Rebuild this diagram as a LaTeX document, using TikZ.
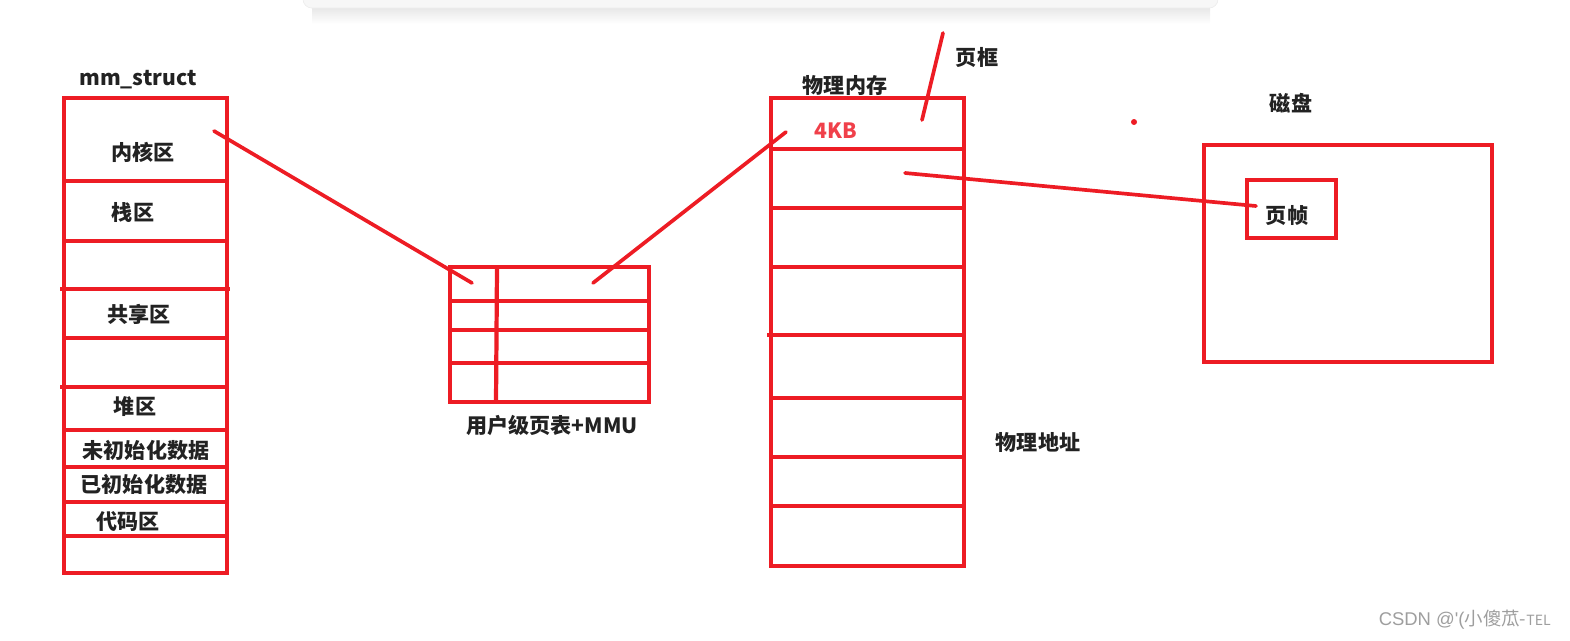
\documentclass[tikz,border=0pt]{standalone}
\usepackage{fontspec}
\setmainfont{Noto Sans CJK SC}
\newfontfamily\latinwm{Liberation Sans}
\usepackage{tikz}
\usetikzlibrary{positioning}
\definecolor{memred}{RGB}{237,28,36}
\definecolor{kbred}{RGB}{240,64,74}
\definecolor{inkgray}{RGB}{34,34,34}
\tikzset{
  box/.style={draw=memred, line width=2.4pt, inner sep=0pt, fill=none},
  divider/.style={memred, line width=2.4pt},
  stroke/.style={memred, line width=2.1pt, line cap=round},
  lab/.style={font=\bfseries\fontsize{12}{14}\selectfont, text=inkgray, inner sep=0pt},
  marklab/.style={lab, text=kbred},
  wmark/.style={font=\fontsize{10.5}{12}\selectfont, text=black!38, inner sep=0pt},
}
\begin{document}
\begin{tikzpicture}[x=0.2mm,y=-0.2mm]
  \path[use as bounding box] (0,0) rectangle (1570,640);

  % Window bar at the top edge.
  \shade[top color=black!9, bottom color=white] (312,8) rectangle (1210,24);
  \fill[black!3, draw=black!7, rounded corners=5pt] (303,-20) rectangle (1218,8);

  % Virtual address space.
  \node[lab] (mm) at (138,80) {mm\_struct};
  \node[box, minimum width=32.6mm, minimum height=95mm] (vmem) at (145.5,335.5) {};
  \foreach \yy in {181,241,338,430,467,502,536}{
    \draw[divider] (64,\yy) -- (227,\yy);
  }
  \draw[divider] (60,289) -- (230,289);
  \draw[divider] (60,387) -- (227,387);
  \node[lab] (kern) at (143,152) {内核区};
  \node[lab] (stk) at (133,212) {栈区};
  \node[lab] (shr) at (139,314) {共享区};
  \node[lab] (heap) at (135,407) {堆区};
  \node[lab] (bss) at (146,450) {未初始化数据};
  \node[lab] (data) at (144,484) {已初始化数据};
  \node[lab] (text) at (128,521) {代码区};

  % Page table.
  \node[box, minimum width=39.8mm, minimum height=27mm] (pt) at (549.5,334.5) {};
  \foreach \yy in {301,330,363}{
    \draw[divider] (448,\yy) -- (649,\yy);
  }
  \draw[divider] (497,267) -- (496,402);
  \node[lab] (ptlab) at (552,425) {用户级页表+MMU};

  % Physical memory.
  \node[lab] (pmlab) at (845,85) {物理内存};
  \node[box, minimum width=38.6mm, minimum height=93.6mm] (pmem) at (867.5,332) {};
  \foreach \yy in {149,208,267,398,457,506}{
    \draw[divider] (771,\yy) -- (964,\yy);
  }
  \draw[divider] (767,335) -- (964,335);
  \node[marklab] (kb) at (836,131) {4KB};
  \node[lab] (frm) at (977,57) {页框};
  \node[lab] (paddr) at (1038,442) {物理地址};

  % Disk.
  \node[lab] (dlab) at (1291,103) {磁盘};
  \node[box, minimum width=57.6mm, minimum height=43.4mm] (disk) at (1348,253.5) {};
  \node[box, minimum width=17.8mm, minimum height=11.6mm] (pframe) at (1291.5,209) {};
  \node[lab] (pflab) at (1287,216) {页帧};

  % Hand-drawn links.
  \coordinate (kernend) at (214,131);
  \coordinate (ptin) at (472,283);
  \coordinate (ptout) at (593,283);
  \coordinate (pmin) at (786,132);
  \coordinate (pmout) at (905,173);
  \coordinate (diskin) at (1256,206);
  \coordinate (frmtop) at (943,33);
  \coordinate (frmend) at (922,120);
  \draw[stroke] (kernend) -- (ptin);
  \draw[stroke] (ptout) -- (pmin);
  \draw[stroke] (pmout) -- (diskin);
  \draw[stroke] (frmtop) -- (frmend);
  \fill[memred] (1134,122) circle (3);

  \node[wmark, anchor=east] (wm) at (1551,620)
    {{\latinwm CSDN @'(}小傻苽-{\fontsize{8}{9}\selectfont TEL}};
\end{tikzpicture}
\end{document}
